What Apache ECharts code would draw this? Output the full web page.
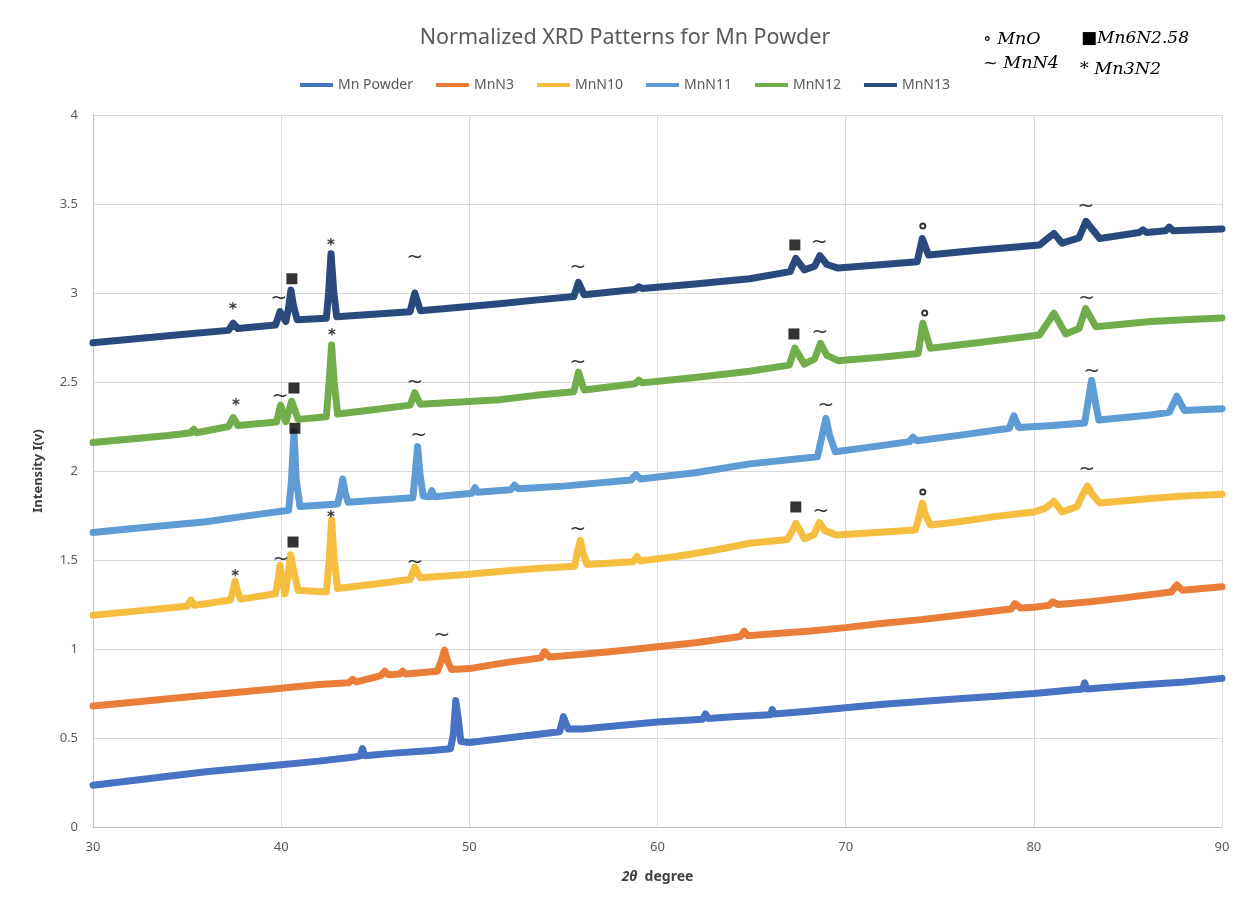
<!DOCTYPE html>
<html>
<head>
<meta charset="utf-8">
<script src="https://cdn.jsdelivr.net/npm/echarts@6/dist/echarts.min.js"></script>
<style>html,body{margin:0;padding:0;background:#fff}#c{width:1250px;height:904px}</style>
</head>
<body>
<div id="c"></div>
<script>
// ---- data: [2θ, intensity] ----
const seriesNames = ['Mn Powder', 'MnN3', 'MnN10', 'MnN11', 'MnN12', 'MnN13'];
const seriesColors = ['#4872C3', '#EA7E38', '#F6BE40', '#5F9BD5', '#72AD4C', '#2A4A7E'];
const xTicks = [30, 40, 50, 60, 70, 80, 90];
const yTicks = [0, 0.5, 1, 1.5, 2, 2.5, 3, 3.5, 4];

const mnPowder = [[30,0.235],[32,0.26],[34,0.285],[36,0.31],[38,0.33],[40,0.35],[42,0.37],[44,0.395],[44.2,0.40],[44.32,0.44],[44.45,0.40],[46,0.415],[48,0.43],[49.0,0.44],[49.15,0.52],[49.28,0.71],[49.4,0.62],[49.55,0.48],[50,0.475],[52,0.50],[54,0.525],[54.8,0.535],[55.0,0.62],[55.25,0.55],[56,0.55],[58,0.57],[60,0.59],[62.4,0.605],[62.55,0.635],[62.7,0.61],[64,0.62],[66,0.63],[66.1,0.66],[66.2,0.635],[68,0.65],[70,0.67],[72,0.69],[74,0.705],[76,0.72],[78,0.735],[80,0.75],[82,0.77],[82.6,0.775],[82.7,0.81],[82.8,0.775],[84,0.785],[86,0.80],[88,0.815],[90,0.835]];
const mnN3 = [[30,0.68],[32,0.70],[34,0.72],[36,0.74],[38,0.76],[40,0.78],[42,0.80],[43.6,0.81],[43.8,0.83],[44.0,0.815],[45.3,0.85],[45.5,0.875],[45.7,0.855],[46.3,0.86],[46.45,0.875],[46.6,0.86],[48.3,0.875],[48.5,0.93],[48.68,0.994],[48.85,0.93],[49.05,0.885],[50,0.89],[52,0.925],[53.8,0.95],[54.0,0.985],[54.25,0.955],[56,0.97],[58,0.99],[60,1.013],[62,1.035],[64.4,1.07],[64.6,1.10],[64.8,1.075],[66.5,1.088],[68,1.10],[70,1.12],[72,1.145],[74,1.165],[76,1.19],[78,1.215],[78.8,1.225],[79.0,1.255],[79.3,1.23],[80,1.235],[80.8,1.245],[81.0,1.265],[81.3,1.25],[83,1.265],[85,1.29],[87.3,1.32],[87.6,1.36],[87.9,1.33],[90,1.35]];
const mnN10 = [[30,1.19],[32,1.21],[34,1.23],[35.0,1.24],[35.2,1.275],[35.4,1.245],[37.3,1.275],[37.45,1.33],[37.55,1.38],[37.7,1.32],[37.85,1.28],[39.7,1.31],[39.85,1.40],[39.94,1.47],[40.08,1.38],[40.2,1.31],[40.35,1.40],[40.5,1.53],[40.65,1.45],[40.9,1.33],[42.4,1.32],[42.55,1.50],[42.68,1.725],[42.82,1.50],[43.0,1.34],[45,1.365],[46.85,1.39],[47.1,1.46],[47.4,1.40],[50,1.42],[52,1.44],[54,1.455],[55.6,1.465],[55.75,1.55],[55.9,1.61],[56.05,1.54],[56.25,1.475],[58.7,1.49],[58.9,1.52],[59.1,1.495],[61,1.52],[63,1.555],[64.9,1.594],[66.9,1.615],[67.2,1.67],[67.35,1.706],[67.55,1.67],[67.8,1.62],[68.3,1.64],[68.6,1.71],[68.9,1.665],[69.5,1.64],[71,1.65],[73.7,1.668],[73.9,1.74],[74.07,1.82],[74.25,1.75],[74.5,1.697],[76,1.715],[78,1.745],[80,1.77],[80.6,1.79],[81.07,1.83],[81.5,1.77],[82.3,1.80],[82.6,1.87],[82.85,1.916],[83.1,1.87],[83.5,1.82],[86.2,1.846],[88,1.86],[90,1.87]];
const mnN11 = [[30,1.655],[32,1.675],[34,1.695],[36,1.715],[38,1.745],[40.4,1.78],[40.55,1.95],[40.68,2.22],[40.8,1.95],[41.0,1.80],[43.0,1.815],[43.15,1.88],[43.27,1.955],[43.4,1.88],[43.55,1.825],[47.0,1.85],[47.12,1.98],[47.25,2.137],[47.38,1.98],[47.55,1.86],[47.9,1.855],[48.0,1.89],[48.15,1.855],[50.15,1.875],[50.3,1.906],[50.45,1.88],[52.2,1.895],[52.4,1.92],[52.6,1.90],[55,1.915],[58.6,1.95],[58.85,1.98],[59.1,1.955],[62,1.99],[64.9,2.04],[68.5,2.08],[68.75,2.20],[68.95,2.296],[69.15,2.20],[69.45,2.108],[71,2.13],[73.4,2.165],[73.57,2.19],[73.8,2.17],[76,2.20],[78.7,2.24],[78.94,2.31],[79.2,2.245],[81,2.255],[82.7,2.27],[82.9,2.40],[83.07,2.51],[83.25,2.40],[83.45,2.287],[86.2,2.315],[87.2,2.33],[87.6,2.42],[88.0,2.34],[90,2.35]];
const mnN12 = [[30,2.16],[32,2.18],[34,2.20],[35.2,2.215],[35.35,2.235],[35.5,2.215],[37.2,2.25],[37.45,2.30],[37.7,2.255],[39.75,2.275],[39.97,2.37],[40.25,2.277],[40.56,2.393],[40.9,2.29],[42.4,2.305],[42.55,2.50],[42.68,2.708],[42.82,2.50],[43.0,2.32],[45,2.345],[46.85,2.37],[47.1,2.44],[47.4,2.375],[51.6,2.40],[53.5,2.425],[55.55,2.445],[55.8,2.556],[56.1,2.455],[58.8,2.49],[59.0,2.51],[59.2,2.495],[62,2.525],[64.9,2.56],[67.0,2.595],[67.3,2.69],[67.8,2.60],[68.35,2.63],[68.66,2.717],[69.0,2.65],[69.6,2.62],[72,2.64],[73.85,2.66],[74.1,2.83],[74.5,2.69],[77,2.72],[80.3,2.764],[81.07,2.886],[81.7,2.77],[82.4,2.80],[82.75,2.913],[83.3,2.81],[86.2,2.84],[88,2.85],[90,2.86]];
const mnN13 = [[30,2.72],[32,2.74],[35,2.77],[37.2,2.79],[37.45,2.83],[37.7,2.80],[39.7,2.82],[39.94,2.895],[40.25,2.84],[40.4,2.92],[40.52,3.017],[40.65,2.93],[40.85,2.85],[42.4,2.858],[42.52,3.0],[42.65,3.22],[42.8,3.0],[42.95,2.867],[46.85,2.895],[47.1,3.0],[47.4,2.90],[51.6,2.94],[53.5,2.96],[55.55,2.98],[55.8,3.06],[56.1,2.99],[58.8,3.02],[59.0,3.035],[59.2,3.025],[62,3.05],[64.9,3.08],[67.05,3.12],[67.35,3.195],[67.8,3.13],[68.35,3.15],[68.63,3.21],[69.0,3.16],[69.6,3.14],[72,3.16],[73.8,3.175],[74.07,3.306],[74.4,3.213],[77,3.24],[80.3,3.27],[81.07,3.335],[81.5,3.28],[82.4,3.31],[82.77,3.403],[83.5,3.306],[85.6,3.34],[85.8,3.355],[86.0,3.34],[87.0,3.35],[87.2,3.37],[87.4,3.35],[90,3.36]];
const seriesData = [mnPowder, mnN3, mnN10, mnN11, mnN12, mnN13];

// phase markers placed above peaks: [2θ, intensity]
const markTilde = [[39.88,2.966],[47.1,3.20],[55.77,3.14],[68.6,3.28],[82.76,3.483],[39.94,2.416],[47.1,2.494],[55.77,2.61],[68.63,2.775],[82.8,2.97],[47.3,2.197],[68.95,2.365],[83.08,2.556],[39.99,1.50],[47.1,1.483],[55.77,1.668],[68.68,1.77],[82.82,2.006],[48.54,1.073]];
const markStar = [[37.44,2.905],[42.65,3.265],[37.6,2.366],[42.7,2.76],[37.55,1.406],[42.65,1.737]];
const markSquare = [[40.57,3.08],[67.3,3.27],[40.68,2.466],[67.25,2.77],[40.73,2.24],[40.63,1.601],[67.35,1.798]];
const markCircle = [[74.1,3.376],[74.2,2.888],[74.1,1.882]];
const phaseKey = [['∘ MnO', '■Mn6N2.58'], ['~ MnN4', '* Mn3N2']];

const chart = echarts.init(document.getElementById('c'), null, {renderer: 'canvas'});
const lineSeries = seriesNames.map((n, i) => ({
  name: n, type: 'line', data: seriesData[i], showSymbol: false, symbol: 'none',
  lineStyle: {width: 7, color: seriesColors[i], join: 'round', cap: 'round'}, itemStyle: {color: seriesColors[i]},
  animation: false, z: 2
}));
const textMark = (data, txt, size, weight) => ({
  type: 'scatter', data: data, symbol: 'circle', symbolSize: 2, itemStyle: {color: 'rgba(0,0,0,0)'}, silent: true, animation: false, z: 5,
  label: {show: true, position: 'inside', formatter: txt, color: '#000', fontSize: size, fontWeight: weight, fontFamily: 'DejaVu Sans'},
  labelLayout: {hideOverlap: false}
});
chart.setOption({
  animation: false,
  backgroundColor: '#fff',
  title: {text: 'Normalized XRD Patterns for Mn Powder', left: 'center', top: 22,
    textStyle: {fontFamily: 'Noto Sans', fontSize: 21.5, fontWeight: 'normal', color: '#595959'}},
  legend: {data: seriesNames, top: 73, left: 'center', icon: 'rect', itemWidth: 33, itemHeight: 4, itemGap: 23,
    textStyle: {fontFamily: 'Noto Sans', fontSize: 14, color: '#595959'}},
  grid: {left: 93, right: 28, top: 115, bottom: 77, containLabel: false},
  xAxis: {type: 'value', min: xTicks[0], max: xTicks[xTicks.length - 1], interval: 10,
    axisLine: {show: true, lineStyle: {color: '#bfbfbf'}}, axisTick: {show: false},
    splitLine: {show: true, lineStyle: {color: '#d9d9d9', width: 1}},
    axisLabel: {color: '#595959', fontSize: 13, fontFamily: 'Noto Sans', margin: 14},
    name: '{i|2θ}  degree', nameLocation: 'middle', nameGap: 43,
    nameTextStyle: {fontFamily: 'Noto Sans', fontSize: 14, fontWeight: 'bold', color: '#404040',
      rich: {i: {fontFamily: 'Noto Sans', fontSize: 14, fontWeight: 'bold', fontStyle: 'italic', color: '#404040'}}}},
  yAxis: {type: 'value', min: yTicks[0], max: yTicks[yTicks.length - 1], interval: 0.5,
    axisLine: {show: true, lineStyle: {color: '#bfbfbf'}}, axisTick: {show: false},
    splitLine: {show: true, lineStyle: {color: '#d9d9d9', width: 1}},
    axisLabel: {color: '#595959', fontSize: 13, fontFamily: 'Noto Sans', margin: 15},
    name: 'Intensity I(v)', nameLocation: 'middle', nameGap: 48,
    nameTextStyle: {fontFamily: 'Noto Sans', fontSize: 13, fontWeight: 'bold', color: '#404040'}},
  graphic: [
    {type: 'text', left: 983, top: 30, style: {text: phaseKey[0][0], font: 'italic 17.5px "DejaVu Serif"', fill: '#000'}},
    {type: 'text', left: 1081, top: 30, style: {text: phaseKey[0][1], font: 'italic 17px "DejaVu Serif"', fill: '#000'}},
    {type: 'text', left: 983, top: 54, style: {text: phaseKey[1][0], font: 'italic 17.5px "DejaVu Serif"', fill: '#000'}},
    {type: 'text', left: 1080, top: 60, style: {text: phaseKey[1][1], font: 'italic 17.5px "DejaVu Serif"', fill: '#000'}}
  ],
  series: lineSeries.concat([
    textMark(markTilde, '~', 20, 'normal'),
    textMark(markStar, '*', 15, 'bold'),
    {type: 'scatter', data: markSquare, symbol: 'rect', symbolSize: 11, itemStyle: {color: '#000'}, silent: true, animation: false, z: 5},
    {type: 'scatter', data: markCircle, symbol: 'emptyCircle', symbolSize: 5, itemStyle: {color: '#000', borderColor: '#000', borderWidth: 1.5}, silent: true, animation: false, z: 5}
  ])
});
</script>
</body>
</html>
